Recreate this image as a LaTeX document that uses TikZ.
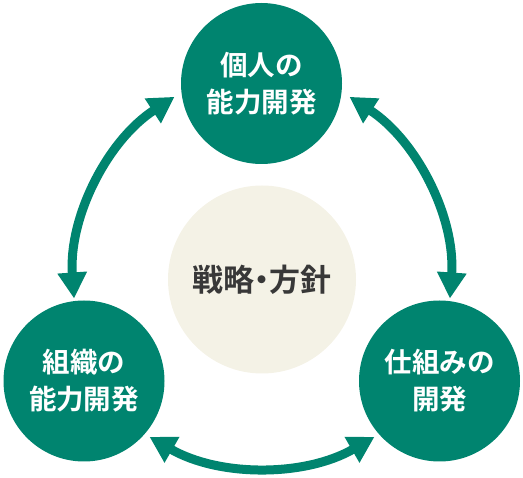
\documentclass[tikz,border=0pt]{standalone}
\usepackage{fontspec}
\usetikzlibrary{arrows.meta}
\newfontfamily\jpfont{Noto Sans CJK JP}[BoldFont={Noto Sans CJK JP Bold}]
\definecolor{kaihatsugreen}{HTML}{00846F}
\definecolor{hoshincream}{HTML}{F4F2E6}
\definecolor{hoshintext}{HTML}{383838}

\begin{document}
\begin{tikzpicture}[x=1pt,y=1pt,
    ring/.style={circle,fill=kaihatsugreen,minimum size=161pt,inner sep=0pt,
        text=white,align=center,font=\jpfont\bfseries\fontsize{27.5}{37}\selectfont},
    core/.style={circle,fill=hoshincream,minimum size=188pt,inner sep=0pt,
        text=hoshintext,font=\jpfont\bfseries\fontsize{31}{36}\selectfont},
    cycarrow/.style={kaihatsugreen,line width=9pt,
        {Triangle[width=28pt,length=26pt]}-{Triangle[width=28pt,length=26pt]}}]
        % 外枠 523x478

        \useasboundingbox (0,0) rectangle (523,-478);

        % 中心と三つの円
        \node[core] (hoshin) at (262,-279.5) {戦略{\kern-0.25em}・{\kern-0.25em}方針};
        \node[ring] (kojin) at (261.5,-83.5) {個人の\\能力開発};
        \node[ring] (soshiki) at (84,-381) {組織の\\能力開発};
        \node[ring] (shikumi) at (439.5,-381) {仕組みの\\開発};

        % 弧の中心
        \coordinate (lc) at (295.5,-283);
        \coordinate (rc) at (228.5,-283);
        \coordinate (bc) at (262,-242);

        % 双方向の矢印
        \draw[cycarrow] ([shift={(123:222)}]lc) arc (123:184:222);
        \draw[cycarrow] ([shift={(-4:222)}]rc) arc (-4:57:222);
        \draw[cycarrow] ([shift={(240:225)}]bc) arc (240:300:225);
    \end{tikzpicture}
\end{document}
